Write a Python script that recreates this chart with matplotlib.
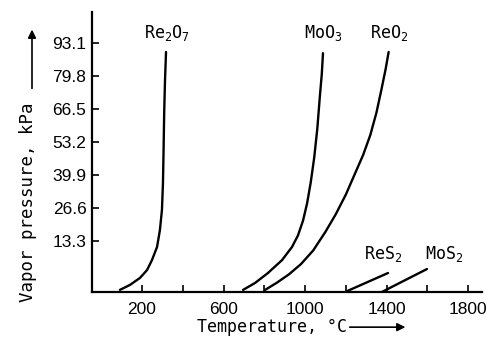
import numpy as np
import matplotlib
matplotlib.use("Agg")
import matplotlib.pyplot as plt
from matplotlib.ticker import FixedLocator

LABEL_FONT = 'DejaVu Sans Mono'
TICK_FONT = 'Liberation Sans'
plt.rcParams['font.family'] = [LABEL_FONT, 'DejaVu Sans']
plt.rcParams['mathtext.fontset'] = 'custom'
plt.rcParams['mathtext.rm'] = LABEL_FONT
plt.rcParams['mathtext.it'] = LABEL_FONT
plt.rcParams['mathtext.default'] = 'rm'

# === data (temperature in degC, pressure in kPa) ===
re2o7_t = [92, 141, 190, 225, 249, 274, 288, 298, 303, 306, 309, 313, 318]
re2o7_p = [-6.4, -4.4, -1.6, 1.6, 5.6, 10.9, 17.7, 25.8, 36.7, 50.0, 65.0, 78.0, 89.5]

moo3_t = [696, 755, 818, 887, 936, 965, 990, 1010, 1028, 1045, 1060, 1073, 1082, 1088]
moo3_p = [-6.4, -3.6, 0.4, 5.6, 10.9, 15.5, 21.5, 28.5, 37.0, 47.0, 58.5, 72.0, 80.5, 89.0]

reo2_t = [804, 860, 920, 980, 1040, 1100, 1150, 1200, 1245, 1285, 1320, 1350, 1375, 1395, 1410]
reo2_p = [-6.4, -3.6, -0.2, 4.0, 9.5, 17.0, 24.0, 32.0, 40.5, 48.0, 56.0, 65.0, 74.5, 82.5, 89.5]

res2_t = [1206, 1407]
res2_p = [-6.9, 0.4]

mos2_t = [1378, 1598]
mos2_p = [-7.2, 2.0]

y_ticks = [13.3, 26.6, 39.9, 53.2, 66.5, 79.8, 93.1]
x_labeled = [200, 600, 1000, 1400, 1800]
x_minor = [400, 800, 1200, 1600]

compound_names = [r'Re$_2$O$_7$', r'MoO$_3$', r'ReO$_2$', r'ReS$_2$', r'MoS$_2$']
name_t = [323, 1089, 1413, 1385, 1683]
name_p = [97.0, 97.0, 97.0, 8.0, 8.0]

fig = plt.figure(figsize=(4.9, 3.44), dpi=100)
ax = fig.add_axes([0.1878, 0.1512, 0.7959, 0.8139])

for t, p in [(re2o7_t, re2o7_p), (moo3_t, moo3_p), (reo2_t, reo2_p),
             (res2_t, res2_p), (mos2_t, mos2_p)]:
    ax.plot(t, p, color='black', lw=1.7, solid_capstyle='round',
            solid_joinstyle='round')

for txt, x, y in zip(compound_names, name_t, name_p):
    ax.text(x, y, txt, ha='center', va='center', fontsize=12)

ax.set_xlim(-45, 1868)
ax.set_ylim(-7.25, 105.6)

ax.spines['top'].set_visible(False)
ax.spines['right'].set_visible(False)
ax.spines['left'].set_linewidth(1.6)
ax.spines['bottom'].set_linewidth(1.6)

ax.set_yticks(y_ticks)
ax.set_yticklabels([f"{v:.1f}" for v in y_ticks], family=TICK_FONT)
ax.set_xticks(x_labeled)
ax.set_xticklabels([str(v) for v in x_labeled], family=TICK_FONT)
ax.xaxis.set_minor_locator(FixedLocator(x_minor))
ax.tick_params(axis='both', which='both', direction='in', length=5, width=1.2,
               labelsize=12.5)
ax.tick_params(axis='x', which='both', pad=7)
ax.tick_params(axis='y', pad=4)

# axis titles with arrows
fig.text(0.058, 0.413, 'Vapor pressure, kPa', rotation=90, ha='center',
         va='center', fontsize=12.5)
fig.text(0.402, 0.049, 'Temperature, °C', ha='left', va='center', fontsize=12)
ax.annotate('', xy=(0.0653, 0.922), xytext=(0.0653, 0.735),
            xycoords='figure fraction', textcoords='figure fraction',
            arrowprops=dict(arrowstyle='-|>', color='black', lw=1.2,
                            mutation_scale=12))
ax.annotate('', xy=(0.833, 0.049), xytext=(0.708, 0.049),
            xycoords='figure fraction', textcoords='figure fraction',
            arrowprops=dict(arrowstyle='-|>', color='black', lw=1.2,
                            mutation_scale=12))

plt.savefig('out.png', dpi=100)
